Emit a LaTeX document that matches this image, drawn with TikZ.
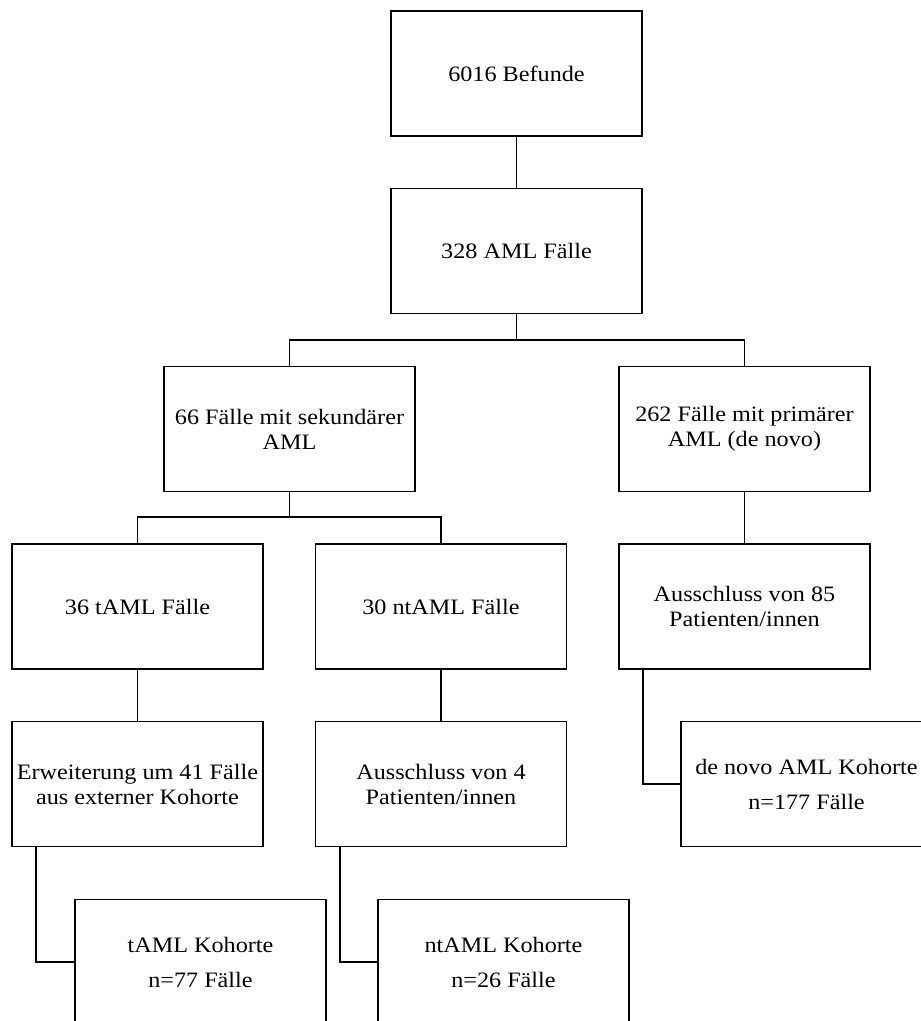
\documentclass[tikz,border=0pt]{standalone}
\usepackage{fontspec}
\setmainfont[FakeStretch=1.1]{Liberation Serif}
\begin{document}
\begin{tikzpicture}[x=1pt,y=-1pt,
  box/.style={draw=black,line width=1.8pt,minimum width=251pt,minimum height=125pt,inner sep=0pt,align=center,font=\fontsize{22}{25}\selectfont},
  link/.style={draw=black,line width=1.8pt}]
\useasboundingbox (0,0) rectangle (921,1021);
\node[box] (b1) at (516.5,73.5) {6016 Befunde};
\node[box] (b2) at (516.5,251) {328 AML Fälle};
\node[box] (b3) at (289.5,429) {66 Fälle mit sekundärer\\AML};
\node[box] (b4) at (744.5,429) {262 Fälle mit primärer\\AML (de novo)};
\node[box] (b5) at (137.5,606.5) {36 tAML Fälle};
\node[box] (b6) at (441,606.5) {30 ntAML Fälle};
\node[box] (b7) at (744.5,606.5) {Ausschluss von 85\\Patienten/innen};
\node[box] (b8) at (137.5,784) {Erweiterung um 41 Fälle\\aus externer Kohorte};
\node[box] (b9) at (441,784) {Ausschluss von 4\\Patienten/innen};
\node[box] (b10) at (806.5,784) {de novo AML Kohorte\\[10pt]n=177 Fälle};
\node[box] (b11) at (200.5,962) {tAML Kohorte\\[10pt]n=77 Fälle};
\node[box] (b12) at (503.5,962) {ntAML Kohorte\\[10pt]n=26 Fälle};
\coordinate (j1) at (516.5,340);
\coordinate (j2) at (289.5,517);
\draw[link] (b1.south) -- (b2.north);
\draw[link] (b2.south) -- (j1);
\draw[link] (b3.north) |- (j1) -| (b4.north);
\draw[link] (b3.south) -- (j2);
\draw[link] (b5.north) |- (j2) -| (b6.north);
\draw[link] (b4.south) -- (b7.north);
\draw[link] (b5.south) -- (b8.north);
\draw[link] (b6.south) -- (b9.north);
\draw[link] ([xshift=25pt]b7.south west) |- (b10.west);
\draw[link] ([xshift=25pt]b8.south west) |- (b11.west);
\draw[link] ([xshift=25pt]b9.south west) |- (b12.west);
\end{tikzpicture}
\end{document}
